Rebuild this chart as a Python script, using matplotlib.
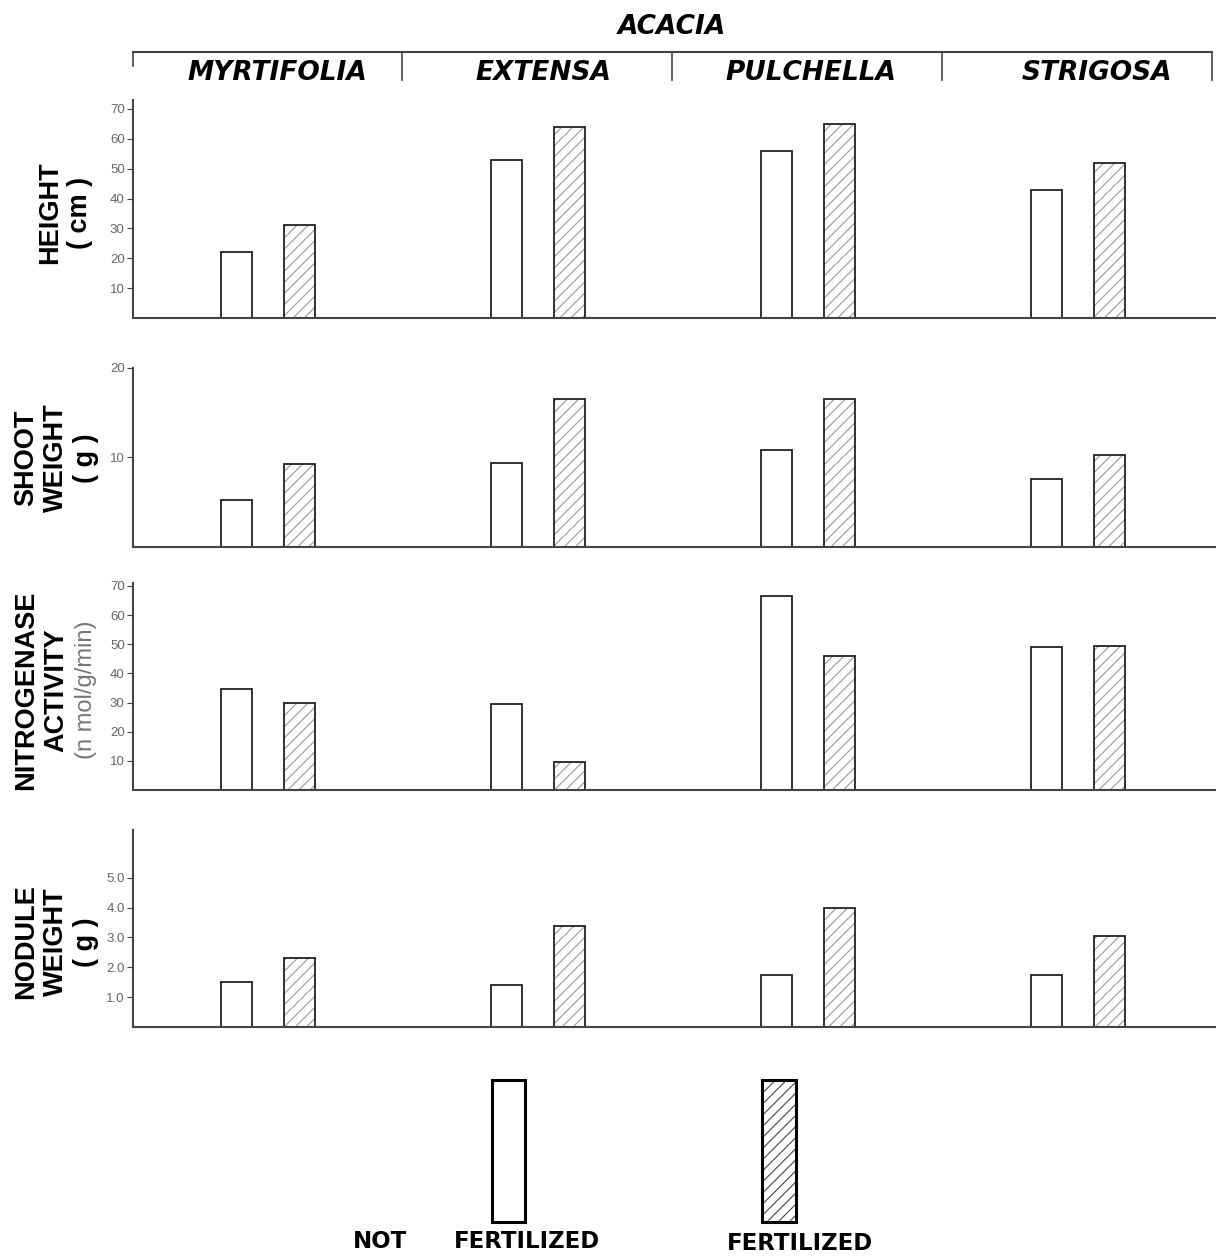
import matplotlib.pyplot as plt
from matplotlib.patches import Rectangle

plt.rcParams['font.family'] = ['Liberation Sans', 'DejaVu Sans']
plt.rcParams['hatch.linewidth'] = 0.8

species = ['MYRTIFOLIA', 'EXTENSA', 'PULCHELLA', 'STRIGOSA']

height_nf = [22, 53, 56, 43]
height_f = [31, 64, 65, 52]
shoot_nf = [5.3, 9.4, 10.8, 7.6]
shoot_f = [9.3, 16.5, 16.5, 10.3]
nitro_nf = [34.5, 29.5, 66.5, 49]
nitro_f = [30, 9.7, 46, 49.5]
nodule_nf = [1.5, 1.4, 1.75, 1.75]
nodule_f = [2.3, 3.4, 4.0, 3.05]

# (values, ylim top, ticks, tick labels, label lines, px top, px bottom, label centre)
panels = [
    (height_nf, height_f, 73, [10, 20, 30, 40, 50, 60, 70],
     ['10', '20', '30', '40', '50', '60', '70'], ['HEIGHT', '( cm )'], 100, 318, 213),
    (shoot_nf, shoot_f, 20, [10, 20], ['10', '20'],
     ['SHOOT', 'WEIGHT', '( g )'], 368, 547, 458),
    (nitro_nf, nitro_f, 71, [10, 20, 30, 40, 50, 60, 70],
     ['10', '20', '30', '40', '50', '60', '70'],
     ['NITROGENASE', 'ACTIVITY', '(n mol/g/min)'], 583, 790, 690),
    (nodule_nf, nodule_f, 6.6, [1, 2, 3, 4, 5],
     ['1.0', '2.0', '3.0', '4.0', '5.0'], ['NODULE', 'WEIGHT', '( g )'], 830, 1027, 942),
]

W, H = 1216, 1256
fig = plt.figure(figsize=(W / 100, H / 100), dpi=100)
fig.patch.set_facecolor('white')

ax_left = 133 / W
grey = '#444444'
x = [i + 0.5 for i in range(4)]
bw = 0.115
off = 0.117

label_x = {2: [50, 80], 3: [26, 56, 86]}

for nf, f, ytop, ticks, tlabels, lines, ptop, pbot, lc in panels:
    ax = fig.add_axes([ax_left, 1 - pbot / H, 1 - ax_left, (pbot - ptop) / H])
    ax.bar([xi - off for xi in x], nf, width=bw, color='white',
           edgecolor='#222222', linewidth=1.3)
    ax.bar([xi + off for xi in x], f, width=bw, color='white',
           edgecolor='#999999', hatch='///', linewidth=0)
    ax.bar([xi + off for xi in x], f, width=bw, fill=False,
           edgecolor='#222222', linewidth=1.3)
    ax.set_xlim(0, 4.01)
    ax.set_ylim(0, ytop)
    ax.set_yticks(ticks)
    ax.set_yticklabels(tlabels, fontsize=9.5, color='#666666')
    ax.set_xticks([])
    ax.tick_params(axis='y', direction='out', length=4, color=grey, pad=2)
    for s in ['top', 'right']:
        ax.spines[s].set_visible(False)
    for s in ['left', 'bottom']:
        ax.spines[s].set_color(grey)
        ax.spines[s].set_linewidth(1.5)
    # stacked y labels
    xs = label_x[len(lines)]
    ymid = 1 - lc / H
    for j, (t, px) in enumerate(zip(lines, xs)):
        unit = t.startswith('(n')
        fig.text(px / W, ymid, t, rotation=90, ha='center', va='center',
                 fontsize=17 if unit else 19.5,
                 fontweight='normal' if unit else 'bold',
                 color='#777777' if unit else 'black')

# header
hfont = dict(family='DejaVu Sans', fontsize=19, fontweight='bold', style='italic')
fig.text(672 / W, 1 - 27 / H, 'ACACIA', ha='center', va='center', **hfont)
hy = 1 - 52 / H
fig.add_artist(plt.Line2D([133 / W, 1212 / W], [hy, hy], color=grey, lw=1.5))
fig.add_artist(plt.Line2D([133 / W, 133 / W], [hy, 1 - 66 / H], color=grey, lw=1.2))
for dx in [402, 672, 942, 1212]:
    fig.add_artist(plt.Line2D([dx / W, dx / W], [hy, 1 - 80 / H], color=grey, lw=1.2))
for name, cx in zip(species, [277, 543, 811, 1097]):
    fig.text(cx / W, 1 - 73 / H, name, ha='center', va='center', **hfont)

# legend swatches
fig.add_artist(Rectangle((492 / W, 1 - 1222 / H), 33 / W, 142 / H,
                         facecolor='white', edgecolor='black', lw=2.2))
fig.add_artist(Rectangle((762 / W, 1 - 1222 / H), 34 / W, 142 / H,
                         facecolor='white', edgecolor='#444444', hatch='///', lw=0))
fig.add_artist(Rectangle((762 / W, 1 - 1222 / H), 34 / W, 142 / H,
                         fill=False, edgecolor='black', lw=2.2))
lfont = dict(family='DejaVu Sans', fontsize=16.5, fontweight='bold')
fig.text(380 / W, 1 - 1241 / H, 'NOT', ha='center', va='center', **lfont)
fig.text(527 / W, 1 - 1242 / H, 'FERTILIZED', ha='center', va='center', **lfont)
fig.text(800 / W, 1 - 1243 / H, 'FERTILIZED', ha='center', va='center', **lfont)

plt.savefig('out.png', dpi=100)
